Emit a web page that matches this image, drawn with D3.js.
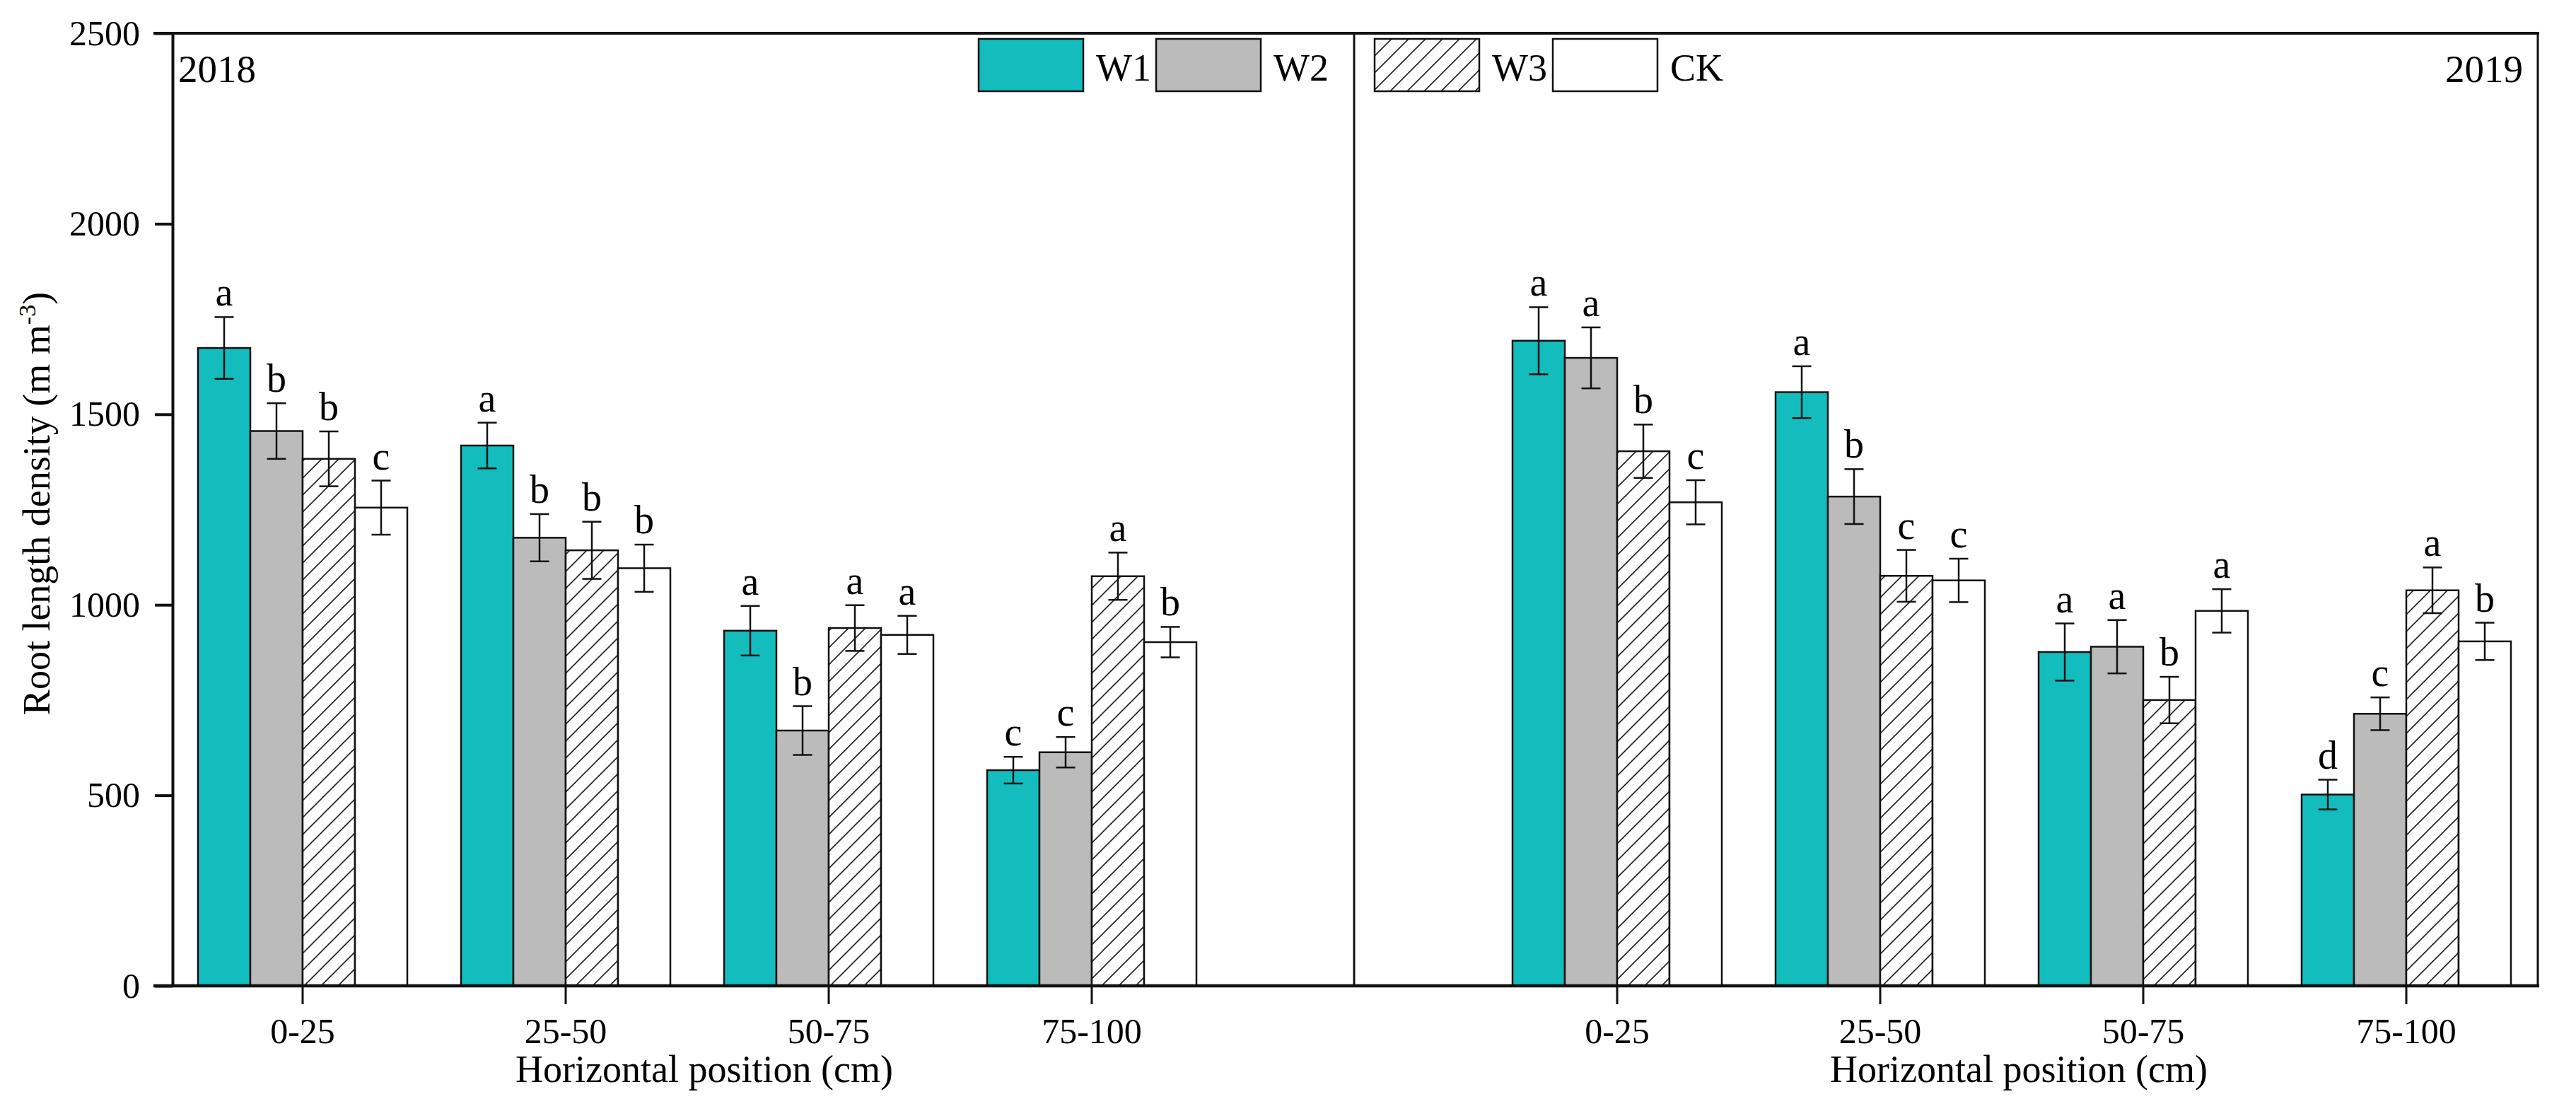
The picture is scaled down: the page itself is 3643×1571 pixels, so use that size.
<!DOCTYPE html>
<html>
<head>
<meta charset="utf-8">
<script src="https://cdn.jsdelivr.net/npm/d3@7/dist/d3.min.js"></script>
<style>
  body { margin: 0; background: #fff; }
  text { font-family: "Liberation Serif", "Times New Roman", serif; fill: #000; }
</style>
</head>
<body>
<svg id="rootChart"></svg>
<script>
// values (root length density, m m-3)
const categories = ["0-25", "25-50", "50-75", "75-100"];
const treatments = ["W1", "W2", "W3", "CK"];
const yTicks = [0, 500, 1000, 1500, 2000, 2500];

const w1_2018 = [1674, 1418, 932, 566];
const w2_2018 = [1456, 1176, 670, 613];
const w3_2018 = [1383, 1143, 939, 1075];
const ck_2018 = [1255, 1096, 921, 902];
const w1Err_2018 = [81, 60, 65, 35];
const w2Err_2018 = [73, 62, 64, 40];
const w3Err_2018 = [72, 75, 60, 62];
const ckErr_2018 = [71, 62, 50, 40];
const w1Sig_2018 = ["a", "a", "a", "c"];
const w2Sig_2018 = ["b", "b", "b", "c"];
const w3Sig_2018 = ["b", "b", "a", "a"];
const ckSig_2018 = ["c", "b", "a", "b"];

const w1_2019 = [1693, 1558, 876, 502];
const w2_2019 = [1648, 1284, 890, 714];
const w3_2019 = [1403, 1076, 750, 1038];
const ck_2019 = [1269, 1064, 984, 904];
const w1Err_2019 = [88, 68, 75, 39];
const w2Err_2019 = [80, 72, 70, 43];
const w3Err_2019 = [70, 68, 61, 60];
const ckErr_2019 = [58, 57, 57, 49];
const w1Sig_2019 = ["a", "a", "a", "d"];
const w2Sig_2019 = ["a", "b", "a", "c"];
const w3Sig_2019 = ["b", "c", "b", "a"];
const ckSig_2019 = ["c", "c", "a", "b"];

function buildRows(means, errs, sigs) {
  const rows = [];
  categories.forEach((c, ci) => {
    treatments.forEach((t, ti) => {
      rows.push({ cat: c, trt: t, value: means[ti][ci], err: errs[ti][ci], sig: sigs[ti][ci] });
    });
  });
  return rows;
}

const data2018 = buildRows(
  [w1_2018, w2_2018, w3_2018, ck_2018],
  [w1Err_2018, w2Err_2018, w3Err_2018, ckErr_2018],
  [w1Sig_2018, w2Sig_2018, w3Sig_2018, ckSig_2018]
);
const data2019 = buildRows(
  [w1_2019, w2_2019, w3_2019, ck_2019],
  [w1Err_2019, w2Err_2019, w3Err_2019, ckErr_2019],
  [w1Sig_2019, w2Sig_2019, w3Sig_2019, ckSig_2019]
);

const width = 3643, height = 1571;
const plot = { left: 244, right: 3589, top: 47, bottom: 1394, divider: 1915 };

const svg = d3.select("#rootChart").attr("width", width).attr("height", height);

const defs = svg.append("defs");
const hatch = defs.append("pattern")
  .attr("id", "hatch")
  .attr("patternUnits", "userSpaceOnUse")
  .attr("width", 24)
  .attr("height", 24);
hatch.append("rect").attr("width", 24).attr("height", 24).attr("fill", "#fff");
hatch.append("path")
  .attr("d", "M-6,6 L6,-6 M0,24 L24,0 M18,30 L30,18")
  .attr("stroke", "#222")
  .attr("stroke-width", 1.6);

const fills = { W1: "#13BDBD", W2: "#BBBBBB", W3: "url(#hatch)", CK: "#ffffff" };

const yScale = d3.scaleLinear().domain([0, 2500]).range([plot.bottom, plot.top]);

const panels = [
  { year: "2018", data: data2018, range: [242, 242 + 4 * 372] },
  { year: "2019", data: data2019, range: [2101, 2101 + 4 * 372] }
];

function drawPanel(panel) {
  const xScale = d3.scaleBand().domain(categories).range(panel.range);
  const inner = d3.scaleBand().domain(treatments).range([38, xScale.bandwidth() - 38]);
  const g = svg.append("g");

  g.selectAll("rect.bar")
    .data(panel.data)
    .join("rect")
    .attr("class", "bar")
    .attr("x", d => xScale(d.cat) + inner(d.trt))
    .attr("y", d => yScale(d.value))
    .attr("width", inner.bandwidth())
    .attr("height", d => yScale(0) - yScale(d.value))
    .attr("fill", d => fills[d.trt])
    .attr("stroke", "#111")
    .attr("stroke-width", 2.5);

  const cx = d => xScale(d.cat) + inner(d.trt) + inner.bandwidth() / 2;
  const cap = 13.5;

  const eb = g.selectAll("g.err").data(panel.data).join("g").attr("class", "err")
    .attr("stroke", "#111").attr("stroke-width", 2.5);
  eb.append("line")
    .attr("x1", cx).attr("x2", cx)
    .attr("y1", d => yScale(d.value + d.err))
    .attr("y2", d => yScale(d.value - d.err));
  eb.append("line")
    .attr("x1", d => cx(d) - cap).attr("x2", d => cx(d) + cap)
    .attr("y1", d => yScale(d.value + d.err)).attr("y2", d => yScale(d.value + d.err));
  eb.append("line")
    .attr("x1", d => cx(d) - cap).attr("x2", d => cx(d) + cap)
    .attr("y1", d => yScale(d.value - d.err)).attr("y2", d => yScale(d.value - d.err));

  g.selectAll("text.sig")
    .data(panel.data)
    .join("text")
    .attr("class", "sig")
    .attr("x", cx)
    .attr("y", d => yScale(d.value + d.err) - 16)
    .attr("text-anchor", "middle")
    .style("font-size", "56px")
    .text(d => d.sig);

  const axisX = d3.axisBottom(xScale)
    .tickSize(26)
    .tickSizeOuter(0)
    .tickPadding(19);
  // ticks sit at the W2/W3 boundary of each group
  const tickOffset = inner("W3") - xScale.bandwidth() / 2;
  const ax = svg.append("g")
    .attr("transform", `translate(${tickOffset},${plot.bottom})`)
    .call(axisX);
  ax.select(".domain").remove();
  ax.selectAll(".tick line").attr("stroke", "#111").attr("stroke-width", 3);
  ax.selectAll(".tick text").style("font-size", "50px").attr("fill", "#000");

  const mid = (xScale(categories[0]) + xScale(categories[categories.length - 1]) + xScale.bandwidth()) / 2;
  svg.append("text")
    .attr("x", mid + tickOffset + 10)
    .attr("y", 1530)
    .attr("text-anchor", "middle")
    .style("font-size", "54px")
    .text("Horizontal position (cm)");
}

panels.forEach(drawPanel);

// frame
const frame = svg.append("g").attr("stroke", "#111").attr("fill", "none");
frame.append("line").attr("x1", 217).attr("x2", plot.right + 2)
  .attr("y1", plot.top).attr("y2", plot.top).attr("stroke-width", 4);
frame.append("line").attr("x1", 217).attr("x2", plot.right + 2)
  .attr("y1", plot.bottom).attr("y2", plot.bottom).attr("stroke-width", 4.5);
frame.append("line").attr("x1", plot.right).attr("x2", plot.right)
  .attr("y1", plot.top).attr("y2", plot.bottom).attr("stroke-width", 3);
frame.append("line").attr("x1", plot.divider).attr("x2", plot.divider)
  .attr("y1", plot.top).attr("y2", plot.bottom).attr("stroke-width", 3);

// y axis
const axisY = d3.axisLeft(yScale)
  .tickValues(yTicks)
  .tickSize(25)
  .tickSizeOuter(0)
  .tickPadding(21)
  .tickFormat(d3.format("d"));
const ay = svg.append("g")
  .attr("transform", `translate(${plot.left},0)`)
  .call(axisY);
ay.select(".domain").attr("stroke", "#111").attr("stroke-width", 4);
ay.selectAll(".tick line").attr("stroke", "#111").attr("stroke-width", 4);
ay.selectAll(".tick text").style("font-size", "50px").attr("fill", "#000");

const yTitle = svg.append("text")
  .attr("transform", "translate(70,712) rotate(-90)")
  .attr("text-anchor", "middle")
  .style("font-size", "54px");
yTitle.append("tspan").text("Root length density (m m");
yTitle.append("tspan").attr("dy", -20).style("font-size", "34px").text("-3");
yTitle.append("tspan").attr("dy", 20).text(")");

// year labels
svg.append("text").attr("x", 252).attr("y", 116).style("font-size", "55px").text("2018");
svg.append("text").attr("x", 3568).attr("y", 116).attr("text-anchor", "end")
  .style("font-size", "55px").text("2019");

// legend: W1, W2 in the left panel, W3, CK in the right one
const legendItems = [
  { trt: "W1", x: 1384 },
  { trt: "W2", x: 1635 },
  { trt: "W3", x: 1944 },
  { trt: "CK", x: 2196 }
];
const legend = svg.append("g")
  .selectAll("g")
  .data(legendItems)
  .join("g")
  .attr("transform", d => `translate(${d.x},55)`);
legend.append("rect")
  .attr("width", 148)
  .attr("height", 74)
  .attr("fill", d => fills[d.trt])
  .attr("stroke", "#111")
  .attr("stroke-width", 2.5);
legend.append("text")
  .attr("x", 166)
  .attr("y", 59)
  .style("font-size", "54px")
  .text(d => d.trt);
</script>
</body>
</html>
